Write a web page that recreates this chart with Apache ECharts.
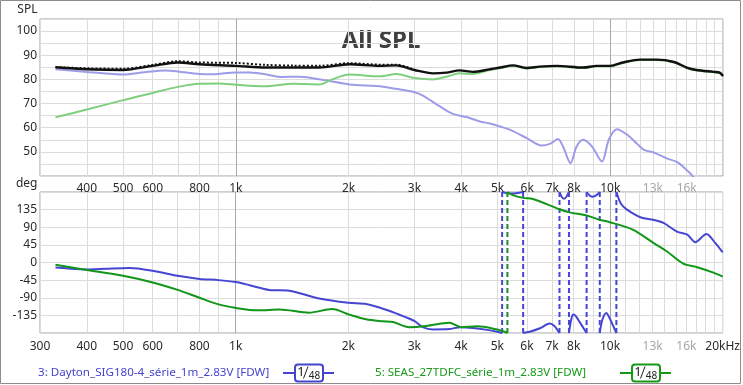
<!DOCTYPE html>
<html><head><meta charset="utf-8">
<script src="https://cdn.jsdelivr.net/npm/echarts@6/dist/echarts.min.js"></script>
<style>html,body{margin:0;padding:0;background:#fff}#c{width:743px;height:385px}</style>
</head><body><div id="c"></div>
<script>
// ---- tick labels / grid frequencies (Hz) ----
const midLabelFreqs = [400,500,600,800,1000,2000,3000,4000,5000,6000,7000,8000,10000,13000,16000];
const bottomLabelFreqs = [300,400,500,600,800,1000,2000,3000,4000,5000,6000,7000,8000,10000,13000,16000,20000];
const grayLabelFreqs = [13000,16000];
const gridFreqs = [300,400,500,600,700,800,900,1000,2000,3000,4000,5000,6000,7000,8000,9000,
  10000,11000,12000,13000,14000,15000,16000,17000,18000,19000,20000];
const majorFreqs = [1000,10000];
const splTickLabels = [50,60,70,80,90,100];
const phaseTickLabels = [-135,-90,-45,0,45,90,135];

// ---- legend ----
const legendNames = ['3: Dayton_SIG180-4_série_1m_2.83V [FDW]','5: SEAS_27TDFC_série_1m_2.83V [FDW]'];
const smoothingText = ['1','48'];

// ---- SPL data [Hz, dB] ----
const daytonSPL = [[330,84.2],[400,83.1],[500,82.0],[570,83.0],[650,83.7],[700,83.3],[800,82.2],[866,82.1],[1000,82.9],
  [1090,82.8],[1200,82.1],[1330,81.0],[1480,81.1],[1740,79.6],[2010,77.9],[2420,77.2],[2680,76.1],[3000,74.7],[3160,73.3],
  [3500,68.9],[3800,65.7],[4130,64.4],[4480,62.6],[4770,61.7],[5080,60.5],[5390,59.2],[5980,55.7],[6550,52.6],[6900,53.3],
  [7250,55.3],[7480,52.2],[7830,45.3],[8130,52.2],[8460,55.0],[8940,52.2],[9500,46.0],[9910,55.0],[10400,59.4],[11100,57.1],
  [11800,53.3],[12300,50.8],[13100,49.7],[14100,47.4],[15100,45.7],[16000,42.5],[16500,40.4],[17000,38.0]];
const seasSPL = [[330,64.3],[400,67.5],[500,71.4],[600,74.4],[700,76.9],[800,78.2],[900,78.3],[1000,77.8],[1090,77.4],
  [1200,77.2],[1420,78.2],[1670,77.9],[1810,80.0],[2010,82.0],[2420,81.25],[2680,82.2],[3000,80.6],[3360,80.0],[3650,81.1],
  [3960,82.5],[4300,82.2],[4770,83.9],[5080,84.6],[5500,85.6],[5980,84.5],[6480,85.1],[7200,85.4],[8460,84.7],[9200,85.4],
  [10000,85.4],[10800,86.8],[12000,88.0],[13300,88.0],[14800,87.0],[16000,84.7],[17000,83.7],[18900,82.9],[19600,82.6],[20000,81.2]];
const sumSPL = [[330,85.0],[400,84.2],[500,83.9],[600,85.6],[700,87.0],[800,86.25],[1000,85.6],[1200,84.9],[1420,84.9],
  [1670,84.9],[2010,86.25],[2420,85.6],[2680,85.8],[3000,83.9],[3360,82.5],[3650,82.8],[3960,83.75],[4300,83.1],[4770,84.2],
  [5080,84.9],[5500,85.8],[5980,84.7],[6480,85.3],[7200,85.6],[8460,84.9],[9200,85.6],[10000,85.6],[10800,87.0],[12000,88.2],
  [13300,88.2],[14800,87.2],[16000,84.9],[17000,83.9],[18900,83.1],[19600,82.8],[20000,81.4]];
const sumDottedSPL = [[330,85.1],[400,84.6],[500,84.4],[600,86.0],[700,87.5],[800,87.0],[1000,86.8],[1200,86.0],[1420,85.7],
  [1670,85.6],[2010,86.7],[2420,86.1],[2680,86.1],[3000,84.0]];

// ---- phase data [Hz, deg]; equal Hz with opposite ±180 = wrap ----
const daytonPhase = [[330,-13],[400,-18],[450,-16],[520,-14],[600,-21],[700,-34],[800,-42],[900,-45],[1000,-50],[1090,-58],
  [1230,-70],[1390,-72],[1670,-92],[2000,-103],[2230,-106],[2420,-115],[2680,-130],[3000,-149],[3160,-165],[3360,-171],
  [3720,-170],[3980,-165],[4300,-167],[4700,-172],[5000,-177],[5150,-180],
  [5150,180],[5450,176],[5860,180],
  [5860,-180],[6100,-177],[6500,-168],[6900,-156],[7100,-162],[7330,-180],
  [7330,180],[7450,166],[7550,163],[7650,168],[7770,180],
  [7770,-180],[7880,-145],[7980,-133],[8100,-137],[8300,-152],[8500,-168],[8660,-180],
  [8660,180],[8850,170],[9000,168],[9200,172],[9390,180],
  [9390,-180],[9550,-145],[9780,-129],[9950,-140],[10200,-162],[10400,-180],
  [10400,180],[10700,150],[11100,135],[12100,115],[13060,109],[13900,101],[15100,79],[16100,71],[16900,52],[18100,73],
  [19100,50],[20000,26]];
const seasPhase = [[330,-6],[400,-19],[500,-34],[600,-51],[700,-70],[800,-90],[900,-107],[1000,-116],[1090,-121],[1150,-122],
  [1310,-120],[1570,-128],[1810,-119],[2010,-133],[2230,-145],[2470,-150],[2630,-152],[2910,-165],[3230,-162],[3720,-154],
  [4000,-165],[4430,-163],[5000,-171],[5200,-176],[5320,-180],
  [5320,180],[5500,172],[5860,165],[6230,162],[7330,136],[7800,128],[8660,120],[9390,109],[9900,104],[11500,84],
  [13060,50],[14200,28],[15700,-3],[17100,-12],[18900,-26],[20000,-36]];

const L = Math.log10;
const XMIN = L(300), XMAX = L(20000);
const toXY = arr => arr.map(p => [L(p[0]), p[1]]);

const C = {
  dayLight:'#9c9ce8', seasLight:'#7fcf7f', dayPh:'#4646d2', seasPh:'#12961a',
  grid:'#dcdcdc', major:'#a8a8a8', frame:'#a0a0a0', text:'#2a2a2a'
};
const FONT = 'Noto Sans';

function splitWrapped(points){
  const segs=[[]], jumps=[];
  for(let i=0;i<points.length;i++){
    const p=points[i], prev=points[i-1];
    if(prev && prev[0]===p[0] && Math.abs(prev[1]-p[1])>=300){
      jumps.push([[L(p[0]),prev[1]],[L(p[0]),p[1]]]);
      segs.push([]);
    }
    segs[segs.length-1].push([L(p[0]),p[1]]);
  }
  return {segs, jumps};
}

function fmtHz(v, last){
  const f = Math.round(Math.pow(10, v));
  let s = f >= 1000 ? (f/1000) + 'k' : String(f);
  if (last && f === 20000) s = '20kHz';
  if (grayLabelFreqs.includes(f)) return '{g|' + s + '}';
  return s;
}

const labelRich = { g: { color:'#a8a8a8', fontFamily:FONT, fontSize:12 } };

function xAxisMain(gridIndex, labelFreqs, margin, last){
  return {
    type:'value', gridIndex, min:XMIN, max:XMAX, position:'bottom',
    axisLine:{show:false}, axisTick:{show:false, customValues: gridFreqs.map(L)},
    axisLabel:{ show: true, customValues: labelFreqs.map(L), margin, color:C.text, fontFamily:FONT, fontSize:12,
      formatter: v => fmtHz(v, last), rich: labelRich, showMinLabel:true, showMaxLabel:true },
    splitLine:{show:true, lineStyle:{color:C.grid, width:1}}
  };
}
function xAxisMajor(gridIndex){
  return {
    type:'value', gridIndex, min:XMIN, max:XMAX, position:'top',
    axisLine:{show:false}, axisTick:{show:false, customValues: majorFreqs.map(L)},
    axisLabel:{show:false},
    splitLine:{show:true, lineStyle:{color:C.major, width:1}}
  };
}

const series = [];
function line(xi, yi, data, color, width, extra){
  series.push(Object.assign({
    type:'line', xAxisIndex:xi, yAxisIndex:yi, data, showSymbol:false, symbol:'none', smooth:0.3,
    lineStyle:{color, width}, silent:true, animation:false, clip:true
  }, extra||{}));
}

// top: SPL
line(0,0,toXY(daytonSPL),C.dayLight,2);
line(0,0,toXY(seasSPL),C.seasLight,2);
line(0,0,toXY(sumSPL),'#111',2.4);
series.push({type:'line', xAxisIndex:0, yAxisIndex:0, data:toXY(sumDottedSPL), showSymbol:false, symbol:'none', smooth:0.3,
  lineStyle:{color:'#111', width:2, type:[2,2]}, silent:true, animation:false});

// bottom: phase
[[daytonPhase, C.dayPh],[seasPhase, C.seasPh]].forEach(([ph, col]) => {
  const {segs, jumps} = splitWrapped(ph);
  jumps.forEach(j => line(2,1,j,col,2,{smooth:false, lineStyle:{color:col, width:2, type:[5,3]}}));
  segs.forEach(s => line(2,1,s,col,2,{smooth:0.3}));
});

const graphic = [
  {type:'rect', shape:{x:0.5,y:0.5,width:740,height:383}, style:{fill:'none', stroke:'#8c8c8c', lineWidth:1}, z:-10, silent:true},
  {type:'text', x:37.5, y:9.5, style:{text:'SPL', fill:C.text, font:'12px "'+FONT+'"', textAlign:'right', textVerticalAlign:'middle'}},
  {type:'text', x:37.5, y:183.5, style:{text:'deg', fill:C.text, font:'12px "'+FONT+'"', textAlign:'right', textVerticalAlign:'middle'}},
  {type:'text', x:381, y:41.5, style:{text:'All SPL', fill:'#404040', font:'bold 24px "'+FONT+'"', textAlign:'center', textVerticalAlign:'middle'}},
];
function legendItem(name, col, tx, bx){
  graphic.push({type:'text', x:tx, y:373, style:{text:name, fill:col, font:'11.6px "'+FONT+'"', textAlign:'left', textVerticalAlign:'middle'}});
  graphic.push({type:'line', shape:{x1:bx-12,y1:373,x2:bx+39,y2:373}, style:{stroke:col, lineWidth:2}});
  graphic.push({type:'rect', shape:{x:bx,y:364.5,width:28,height:17,r:3}, style:{fill:'#fff', stroke:col, lineWidth:2}});
  graphic.push({type:'text', x:bx+6, y:372, style:{text:smoothingText[0], fill:'#222', font:'13px "'+FONT+'"', textAlign:'center', textVerticalAlign:'middle'}, z:10});
  graphic.push({type:'line', shape:{x1:bx+8.5,y1:378.5,x2:bx+13,y2:366.5}, style:{stroke:'#222', lineWidth:1}, z:10});
  graphic.push({type:'text', x:bx+19.5, y:376, style:{text:smoothingText[1], fill:'#222', font:'10px "'+FONT+'"', textAlign:'center', textVerticalAlign:'middle'}, z:10});
}
legendItem(legendNames[0], '#4444cc', 38, 295);
legendItem(legendNames[1], '#169a16', 375, 632);

const option = {
  animation:false,
  backgroundColor:'#fff',
  grid:[
    {left:40, right:20, top:19, height:157, show:true, borderColor:C.frame, borderWidth:1, backgroundColor:'#fff', containLabel:false},
    {left:40, right:20, top:192, height:141, show:true, borderColor:C.frame, borderWidth:1, backgroundColor:'#fff', containLabel:false}
  ],
  xAxis:[ xAxisMain(0, midLabelFreqs, 7, false), xAxisMajor(0), xAxisMain(1, bottomLabelFreqs, 8, true), xAxisMajor(1) ],
  yAxis:[
    {type:'value', gridIndex:0, min:40, max:105, interval:5,
      axisLine:{show:false}, axisTick:{show:false},
      axisLabel:{margin:3, color:C.text, fontFamily:FONT, fontSize:12, formatter: v => splTickLabels.includes(v) ? String(v) : ''},
      splitLine:{lineStyle:{color:C.grid}}},
    {type:'value', gridIndex:1, min:-180, max:180, interval:45,
      axisLine:{show:false}, axisTick:{show:false},
      axisLabel:{margin:3, color:C.text, fontFamily:FONT, fontSize:12, formatter: v => phaseTickLabels.includes(v) ? String(v) : ''},
      splitLine:{lineStyle:{color:C.grid}}}
  ],
  series,
  graphic
};
const chart = echarts.init(document.getElementById('c'), null, {renderer:'canvas'});
chart.setOption(option);
</script></body></html>
